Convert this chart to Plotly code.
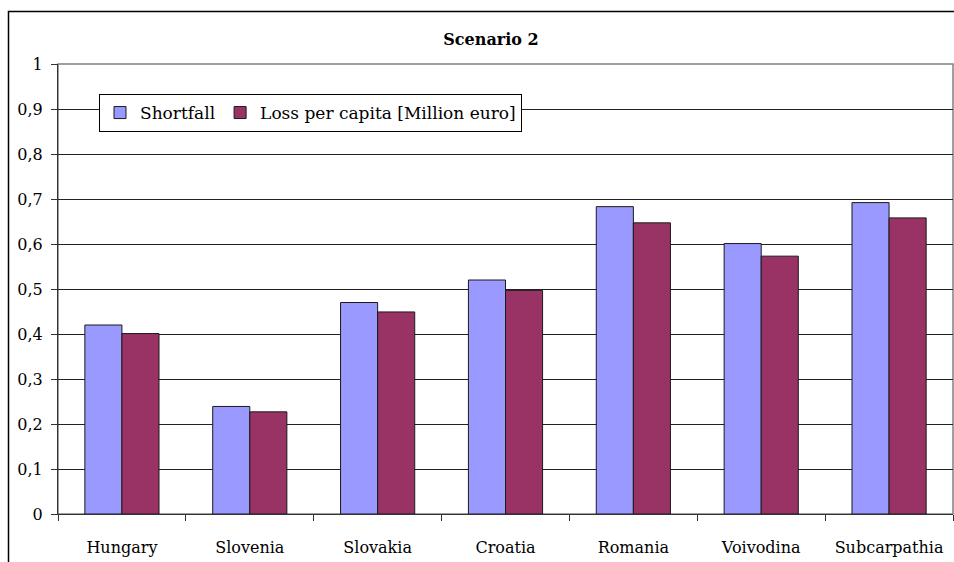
import plotly.graph_objects as go

regions = ["Hungary", "Slovenia", "Slovakia", "Croatia", "Romania", "Voivodina", "Subcarpathia"]
shortfall = [0.42, 0.239, 0.47, 0.52, 0.683, 0.601, 0.692]
loss_per_capita = [0.401, 0.227, 0.449, 0.497, 0.647, 0.573, 0.658]
y_ticks = [0, 0.1, 0.2, 0.3, 0.4, 0.5, 0.6, 0.7, 0.8, 0.9, 1]
y_tick_labels = ["0", "0,1", "0,2", "0,3", "0,4", "0,5", "0,6", "0,7", "0,8", "0,9", "1"]

FONT = "DejaVu Serif"
W, H = 954, 562
ML, MR, MT, MB = 58, 1, 64, 48

fig = go.Figure()
fig.add_trace(go.Bar(
    x=regions, y=shortfall, name="Shortfall",
    marker=dict(color="#9999FF", line=dict(color="#1a1a1a", width=1)),
))
fig.add_trace(go.Bar(
    x=regions, y=loss_per_capita, name="Loss per capita [Million euro]",
    marker=dict(color="#993366", line=dict(color="#1a1a1a", width=1)),
))

pw = W - ML - MR
ph = H - MT - MB

fig.update_layout(
    width=W, height=H,
    margin=dict(l=ML, r=MR, t=MT, b=MB, pad=0),
    paper_bgcolor="white", plot_bgcolor="white",
    barmode="group", bargap=0.42, bargroupgap=0,
    font=dict(family=FONT, size=16, color="black"),
    title=dict(text="<b>Scenario 2</b>", x=(491) / W, xanchor="center",
               y=1 - 39 / H, yanchor="middle", font=dict(family=FONT, size=16)),
    showlegend=True,
    legend=dict(
        orientation="h", x=(99 - ML) / pw, y=(514 - 94) / ph,
        xanchor="left", yanchor="top",
        bgcolor="white", bordercolor="black", borderwidth=1,
        font=dict(family=FONT, size=17), itemwidth=30, traceorder="normal",
    ),
    xaxis=dict(
        type="category", tickson="boundaries", ticks="outside", ticklen=6,
        tickcolor="#333", showline=True, linecolor="#333", linewidth=1,
        showgrid=False, tickfont=dict(family=FONT, size=16), ticklabelstandoff=19,
        mirror=False,
    ),
    yaxis=dict(
        range=[0, 1], tickvals=y_ticks, ticktext=y_tick_labels,
        ticks="outside", ticklen=6, tickcolor="#333",
        showline=True, linecolor="#333", linewidth=1,
        showgrid=True, gridcolor="#222", gridwidth=1, zeroline=False,
        tickfont=dict(family=FONT, size=16), ticklabelstandoff=5,
    ),
    shapes=[
        # plot area frame (top and right)
        dict(type="rect", xref="paper", yref="paper", x0=0, y0=0, x1=1, y1=1,
             line=dict(color="#808080", width=1.5), layer="below"),
        # outer chart frame
        dict(type="rect", xref="paper", yref="paper",
             x0=(8.5 - ML) / pw, y0=-(H + 20 - MT - ph) / ph,
             x1=(W + 20 - ML) / pw, y1=(514 - 11.5) / ph,
             line=dict(color="black", width=1.5)),
    ],
)

fig.write_html("out.html")
